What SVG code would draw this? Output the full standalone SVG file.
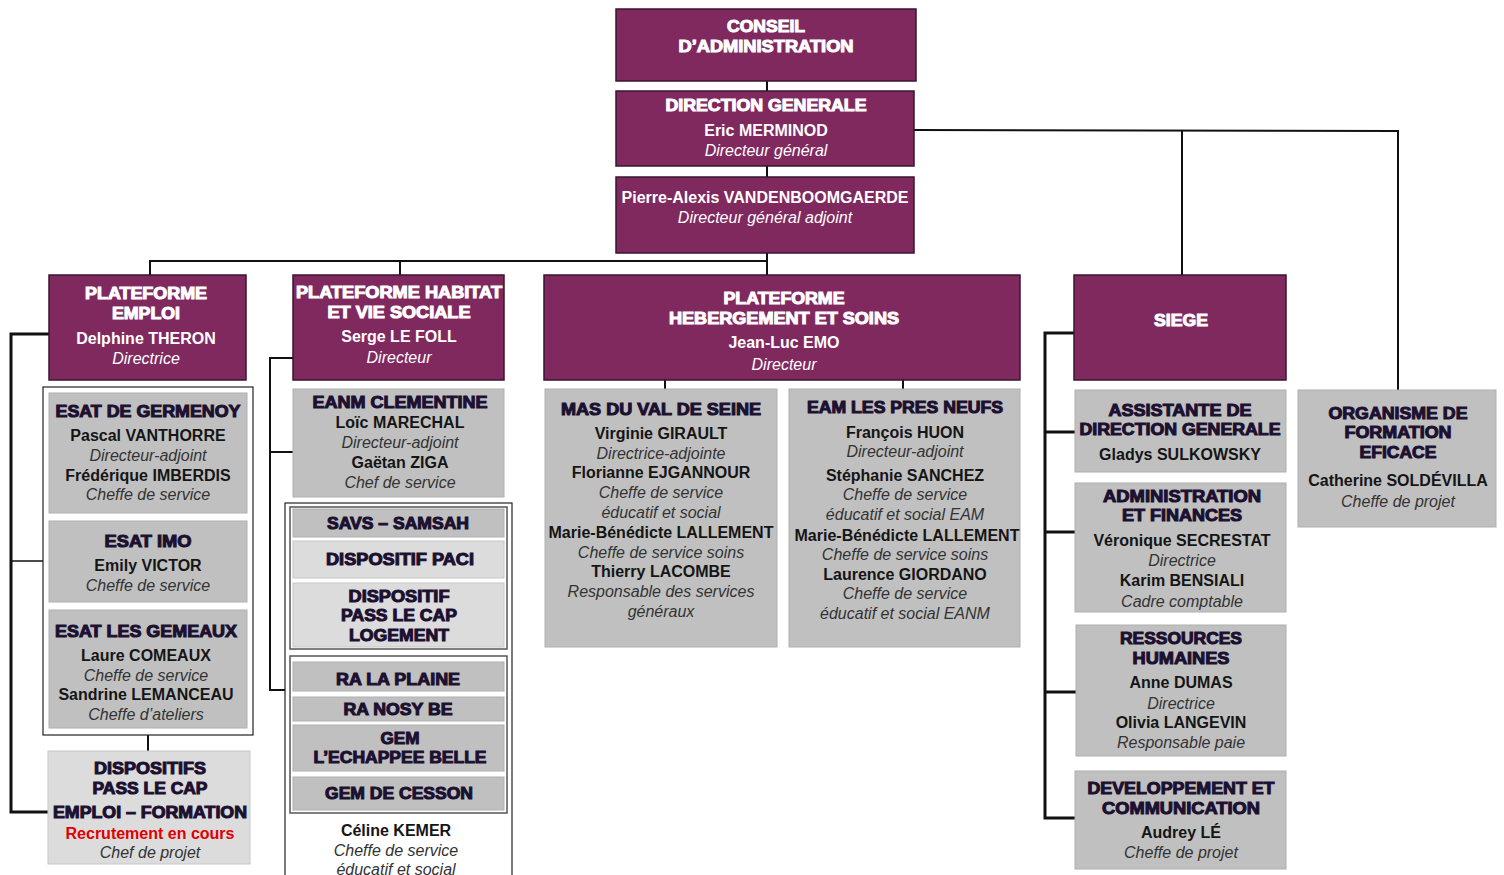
<svg xmlns="http://www.w3.org/2000/svg" width="1504" height="875" viewBox="0 0 1504 875">
<style>
.p{fill:#80295f;stroke:#3a1530;stroke-width:1.5}
.g{fill:#c0c0c0;stroke:#b0b0b0;stroke-width:1}
.l{fill:#dcdcdc;stroke:#c8c8c8;stroke-width:1}
.frame{fill:#fff;stroke:#222;stroke-width:1.2}
.sub{fill:none;stroke:#555;stroke-width:1.5}
text{font-family:"Liberation Sans",Arial,sans-serif;font-size:16px;text-anchor:middle}
.h{font-weight:bold;fill:#1c1030;stroke:#1c1030;stroke-width:1}
.hw{font-weight:bold;fill:#fff;stroke:#fff;stroke-width:1}
.n{font-weight:bold;fill:#151515}
.nw{font-weight:bold;fill:#fff}
.r{font-style:italic;fill:#333}
.rw{font-style:italic;fill:#fff}
.red{font-weight:bold;fill:#e00000}
.c{fill:none;stroke:#111;stroke-width:2}
.ct{fill:none;stroke:#111;stroke-width:3}
.cs{fill:none;stroke:#111;stroke-width:1.5}
</style>
<g id="connectors">
<line class="c" x1="767" y1="81" x2="767" y2="91"/>
<line class="c" x1="767" y1="166" x2="767" y2="177"/>
<polyline class="c" points="914,130 1398,131 1398,390"/>
<line class="c" x1="1182" y1="131" x2="1182" y2="275"/>
<polyline class="c" points="767,253 767,275"/>
<polyline class="c" points="150,275 150,261 767,261"/>
<line class="c" x1="400" y1="261" x2="400" y2="275"/>
<line class="c" x1="665" y1="380" x2="665" y2="389"/>
<line class="c" x1="903" y1="380" x2="903" y2="389"/>
<polyline class="ct" points="49,334 11,334 11,812 48,812"/>
<line class="cs" x1="11" y1="561" x2="43" y2="561"/>
<line class="c" x1="148" y1="735" x2="148" y2="751"/>
<polyline class="c" points="293,358 270,358 270,690 285,690"/>
<line class="c" x1="270" y1="452" x2="293" y2="452"/>
<polyline class="ct" points="1074,333 1045,333 1045,818 1075,818"/>
<line class="ct" x1="1045" y1="432" x2="1075" y2="432"/>
<line class="ct" x1="1045" y1="532" x2="1075" y2="532"/>
<line class="ct" x1="1045" y1="692" x2="1076" y2="692"/>
</g>
<g id="conseil">
<rect class="p" x="616" y="9" width="300" height="72"/>
<text class="hw" x="766" y="32" textLength="78" lengthAdjust="spacingAndGlyphs">CONSEIL</text>
<text class="hw" x="766" y="52" textLength="175" lengthAdjust="spacingAndGlyphs">D’ADMINISTRATION</text>
</g>
<g id="direction-generale">
<rect class="p" x="616" y="91" width="298" height="75"/>
<text class="hw" x="766" y="111" textLength="201" lengthAdjust="spacingAndGlyphs">DIRECTION GENERALE</text>
<text class="nw" x="766" y="136">Eric MERMINOD</text>
<text class="rw" x="766" y="156">Directeur général</text>
</g>
<g id="dga">
<rect class="p" x="616" y="177" width="298" height="76"/>
<text class="nw" x="765" y="203">Pierre-Alexis VANDENBOOMGAERDE</text>
<text class="rw" x="765" y="223">Directeur général adjoint</text>
</g>
<g id="plateforme-emploi">
<rect class="p" x="49" y="275" width="197" height="105"/>
<text class="hw" x="146" y="299" textLength="122" lengthAdjust="spacingAndGlyphs">PLATEFORME</text>
<text class="hw" x="146" y="319" textLength="68" lengthAdjust="spacingAndGlyphs">EMPLOI</text>
<text class="nw" x="146" y="344">Delphine THERON</text>
<text class="rw" x="146" y="364">Directrice</text>
</g>
<g id="emploi-frame">
<rect class="frame" x="43" y="387" width="210" height="348"/>
</g>
<g id="esat-germenoy">
<rect class="g" x="49" y="393" width="198" height="120"/>
<text class="h" x="148" y="417" textLength="185" lengthAdjust="spacingAndGlyphs">ESAT DE GERMENOY</text>
<text class="n" x="148" y="441">Pascal VANTHORRE</text>
<text class="r" x="148" y="461">Directeur-adjoint</text>
<text class="n" x="148" y="481">Frédérique IMBERDIS</text>
<text class="r" x="148" y="500">Cheffe de service</text>
</g>
<g id="esat-imo">
<rect class="g" x="49" y="521" width="198" height="81"/>
<text class="h" x="148" y="547" textLength="87" lengthAdjust="spacingAndGlyphs">ESAT IMO</text>
<text class="n" x="148" y="571">Emily VICTOR</text>
<text class="r" x="148" y="591">Cheffe de service</text>
</g>
<g id="esat-gemeaux">
<rect class="g" x="49" y="610" width="198" height="118"/>
<text class="h" x="146" y="637" textLength="182" lengthAdjust="spacingAndGlyphs">ESAT LES GEMEAUX</text>
<text class="n" x="146" y="661">Laure COMEAUX</text>
<text class="r" x="146" y="681">Cheffe de service</text>
<text class="n" x="146" y="700">Sandrine LEMANCEAU</text>
<text class="r" x="146" y="720">Cheffe d’ateliers</text>
</g>
<g id="dispositifs-emploi">
<rect class="l" x="48" y="751" width="202" height="113"/>
<text class="h" x="150" y="774" textLength="112" lengthAdjust="spacingAndGlyphs">DISPOSITIFS</text>
<text class="h" x="150" y="794" textLength="115" lengthAdjust="spacingAndGlyphs">PASS LE CAP</text>
<text class="h" x="150" y="818" textLength="194" lengthAdjust="spacingAndGlyphs">EMPLOI – FORMATION</text>
<text class="red" x="150" y="839">Recrutement en cours</text>
<text class="r" x="150" y="858">Chef de projet</text>
</g>
<g id="plateforme-habitat">
<rect class="p" x="293" y="275" width="211" height="105"/>
<text class="hw" x="399" y="298" textLength="206" lengthAdjust="spacingAndGlyphs">PLATEFORME HABITAT</text>
<text class="hw" x="399" y="318" textLength="143" lengthAdjust="spacingAndGlyphs">ET VIE SOCIALE</text>
<text class="nw" x="399" y="342">Serge LE FOLL</text>
<text class="rw" x="399" y="363">Directeur</text>
</g>
<g id="eanm-clementine">
<rect class="g" x="293" y="389" width="211" height="108"/>
<text class="h" x="400" y="408" textLength="175" lengthAdjust="spacingAndGlyphs">EANM CLEMENTINE</text>
<text class="n" x="400" y="428">Loïc MARECHAL</text>
<text class="r" x="400" y="448">Directeur-adjoint</text>
<text class="n" x="400" y="468">Gaëtan ZIGA</text>
<text class="r" x="400" y="488">Chef de service</text>
</g>
<g id="habitat-frame">
<rect class="frame" x="285" y="503" width="227" height="380"/>
<rect class="sub" x="290" y="507" width="217" height="142"/>
<rect class="sub" x="290" y="656" width="217" height="157"/>
</g>
<g id="savs-samsah">
<rect class="g" x="293" y="509" width="211" height="28"/>
<text class="h" x="398" y="529" textLength="142" lengthAdjust="spacingAndGlyphs">SAVS – SAMSAH</text>
</g>
<g id="dispositif-paci">
<rect class="l" x="293" y="541" width="211" height="37"/>
<text class="h" x="400" y="565" textLength="148" lengthAdjust="spacingAndGlyphs">DISPOSITIF PACI</text>
</g>
<g id="dispositif-logement">
<rect class="l" x="293" y="583" width="211" height="64"/>
<text class="h" x="399" y="602" textLength="101" lengthAdjust="spacingAndGlyphs">DISPOSITIF</text>
<text class="h" x="399" y="621" textLength="116" lengthAdjust="spacingAndGlyphs">PASS LE CAP</text>
<text class="h" x="399" y="641" textLength="100" lengthAdjust="spacingAndGlyphs">LOGEMENT</text>
</g>
<g id="ra-la-plaine">
<rect class="g" x="293" y="662" width="211" height="29"/>
<text class="h" x="398" y="685" textLength="124" lengthAdjust="spacingAndGlyphs">RA LA PLAINE</text>
</g>
<g id="ra-nosy-be">
<rect class="g" x="293" y="697" width="211" height="24"/>
<text class="h" x="398" y="715" textLength="109" lengthAdjust="spacingAndGlyphs">RA NOSY BE</text>
</g>
<g id="gem-echappee">
<rect class="g" x="293" y="725" width="211" height="46"/>
<text class="h" x="400" y="744" textLength="39" lengthAdjust="spacingAndGlyphs">GEM</text>
<text class="h" x="400" y="763" textLength="173" lengthAdjust="spacingAndGlyphs">L’ECHAPPEE BELLE</text>
</g>
<g id="gem-cesson">
<rect class="g" x="293" y="777" width="211" height="33"/>
<text class="h" x="399" y="799" textLength="148" lengthAdjust="spacingAndGlyphs">GEM DE CESSON</text>
</g>
<g id="celine-kemer">
<text class="n" x="396" y="836">Céline KEMER</text>
<text class="r" x="396" y="856">Cheffe de service</text>
<text class="r" x="396" y="875">éducatif et social</text>
</g>
<g id="plateforme-hebergement">
<rect class="p" x="544" y="275" width="476" height="105"/>
<text class="hw" x="784" y="304" textLength="121" lengthAdjust="spacingAndGlyphs">PLATEFORME</text>
<text class="hw" x="784" y="324" textLength="230" lengthAdjust="spacingAndGlyphs">HEBERGEMENT ET SOINS</text>
<text class="nw" x="784" y="348">Jean-Luc EMO</text>
<text class="rw" x="784" y="370">Directeur</text>
</g>
<g id="mas-val-de-seine">
<rect class="g" x="545" y="389" width="232" height="258"/>
<text class="h" x="661" y="415" textLength="200" lengthAdjust="spacingAndGlyphs">MAS DU VAL DE SEINE</text>
<text class="n" x="661" y="439">Virginie GIRAULT</text>
<text class="r" x="661" y="459">Directrice-adjointe</text>
<text class="n" x="661" y="478">Florianne EJGANNOUR</text>
<text class="r" x="661" y="498">Cheffe de service</text>
<text class="r" x="661" y="518">éducatif et social</text>
<text class="n" x="661" y="538">Marie-Bénédicte LALLEMENT</text>
<text class="r" x="661" y="558">Cheffe de service soins</text>
<text class="n" x="661" y="577">Thierry LACOMBE</text>
<text class="r" x="661" y="597">Responsable des services</text>
<text class="r" x="661" y="617">généraux</text>
</g>
<g id="eam-pres-neufs">
<rect class="g" x="789" y="389" width="231" height="258"/>
<text class="h" x="905" y="413" textLength="196" lengthAdjust="spacingAndGlyphs">EAM LES PRES NEUFS</text>
<text class="n" x="905" y="438">François HUON</text>
<text class="r" x="905" y="457">Directeur-adjoint</text>
<text class="n" x="905" y="481">Stéphanie SANCHEZ</text>
<text class="r" x="905" y="500">Cheffe de service</text>
<text class="r" x="905" y="520">éducatif et social EAM</text>
<text class="n" x="907" y="541">Marie-Bénédicte LALLEMENT</text>
<text class="r" x="905" y="560">Cheffe de service soins</text>
<text class="n" x="905" y="580">Laurence GIORDANO</text>
<text class="r" x="905" y="599">Cheffe de service</text>
<text class="r" x="905" y="619">éducatif et social EANM</text>
</g>
<g id="siege">
<rect class="p" x="1074" y="275" width="212" height="105"/>
<text class="hw" x="1181" y="326" textLength="54" lengthAdjust="spacingAndGlyphs">SIEGE</text>
</g>
<g id="assistante">
<rect class="g" x="1075" y="390" width="211" height="82"/>
<text class="h" x="1180" y="416" textLength="143" lengthAdjust="spacingAndGlyphs">ASSISTANTE DE</text>
<text class="h" x="1180" y="435" textLength="201" lengthAdjust="spacingAndGlyphs">DIRECTION GENERALE</text>
<text class="n" x="1180" y="460">Gladys SULKOWSKY</text>
</g>
<g id="admin-finances">
<rect class="g" x="1075" y="483" width="211" height="129"/>
<text class="h" x="1182" y="502" textLength="158" lengthAdjust="spacingAndGlyphs">ADMINISTRATION</text>
<text class="h" x="1182" y="521" textLength="120" lengthAdjust="spacingAndGlyphs">ET FINANCES</text>
<text class="n" x="1182" y="546">Véronique SECRESTAT</text>
<text class="r" x="1182" y="566">Directrice</text>
<text class="n" x="1182" y="586">Karim BENSIALI</text>
<text class="r" x="1182" y="607">Cadre comptable</text>
</g>
<g id="ressources-humaines">
<rect class="g" x="1076" y="625" width="210" height="131"/>
<text class="h" x="1181" y="644" textLength="122" lengthAdjust="spacingAndGlyphs">RESSOURCES</text>
<text class="h" x="1181" y="664" textLength="97" lengthAdjust="spacingAndGlyphs">HUMAINES</text>
<text class="n" x="1181" y="688">Anne DUMAS</text>
<text class="r" x="1181" y="709">Directrice</text>
<text class="n" x="1181" y="728">Olivia LANGEVIN</text>
<text class="r" x="1181" y="748">Responsable paie</text>
</g>
<g id="developpement-communication">
<rect class="g" x="1075" y="771" width="211" height="98"/>
<text class="h" x="1181" y="794" textLength="187" lengthAdjust="spacingAndGlyphs">DEVELOPPEMENT ET</text>
<text class="h" x="1181" y="814" textLength="158" lengthAdjust="spacingAndGlyphs">COMMUNICATION</text>
<text class="n" x="1181" y="838">Audrey LÉ</text>
<text class="r" x="1181" y="858">Cheffe de projet</text>
</g>
<g id="organisme-formation">
<rect class="g" x="1298" y="390" width="198" height="137"/>
<text class="h" x="1398" y="419" textLength="139" lengthAdjust="spacingAndGlyphs">ORGANISME DE</text>
<text class="h" x="1398" y="438" textLength="107" lengthAdjust="spacingAndGlyphs">FORMATION</text>
<text class="h" x="1398" y="458" textLength="77" lengthAdjust="spacingAndGlyphs">EFICACE</text>
<text class="n" x="1398" y="486">Catherine SOLDÉVILLA</text>
<text class="r" x="1398" y="507">Cheffe de projet</text>
</g>
</svg>
